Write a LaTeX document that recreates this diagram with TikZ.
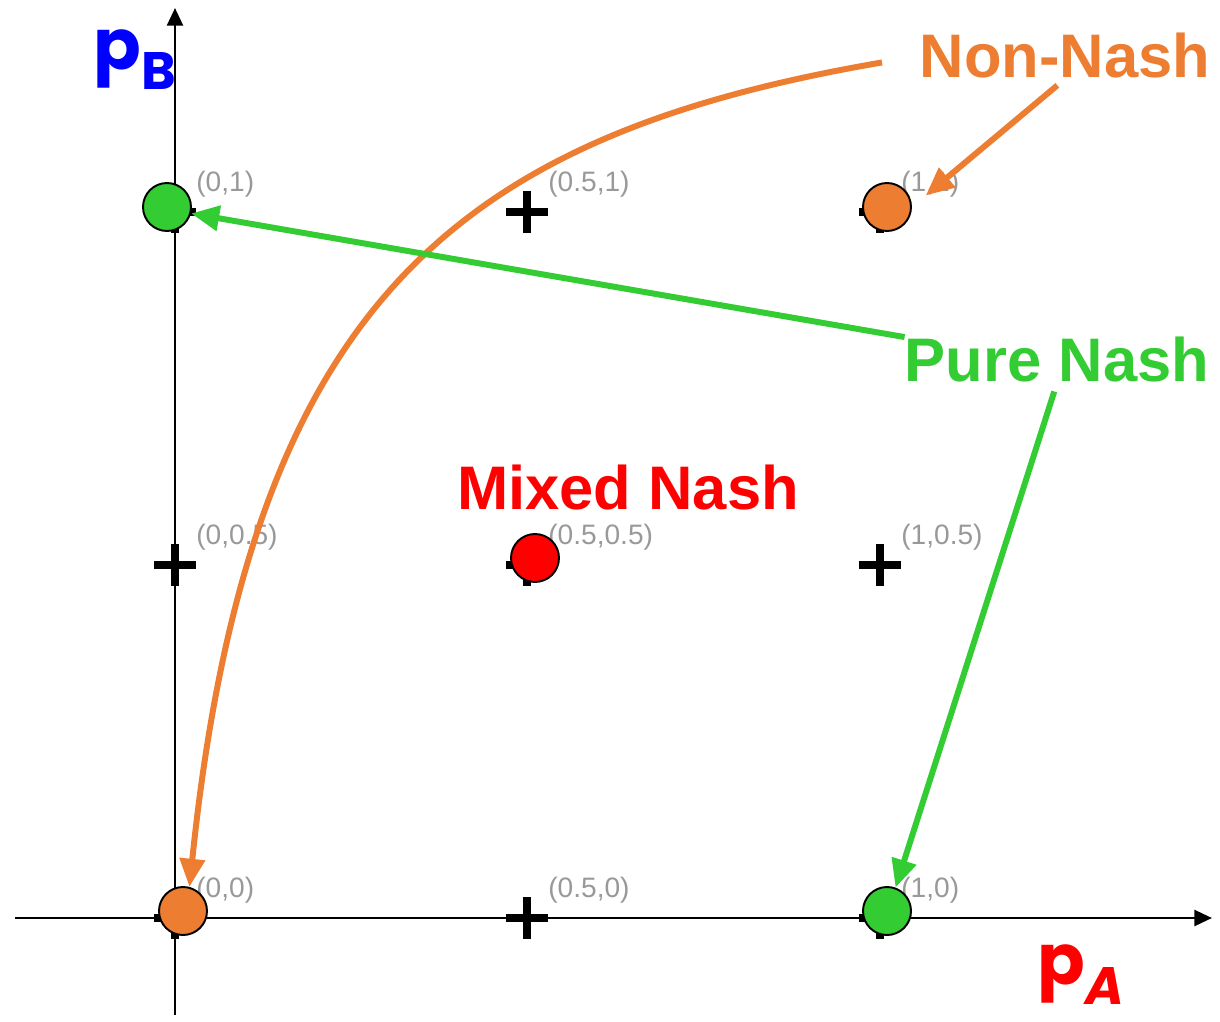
\documentclass[tikz,border=0pt]{standalone}
\usepackage{fontspec}
\setmainfont{Liberation Sans}
\newfontfamily\handfont{Poppins}
\usetikzlibrary{arrows.meta,positioning}
\definecolor{nashorange}{HTML}{ED7D31}
\definecolor{nashgreen}{HTML}{33CC33}

\begin{document}
\begin{tikzpicture}[
  x=0.02cm, y=-0.02cm,
  axis/.style={line width=1.6pt, -{Triangle[length=10pt, width=9pt]}},
  plusmark/.style={line width=4pt},
  pt/.style={circle, draw, line width=1.1pt, minimum size=0.96cm, inner sep=0pt},
  coordlabel/.style={font=\fontsize{16}{16}\selectfont, text=gray!80, anchor=west, inner sep=0pt},
  tag/.style={font=\fontsize{35}{35}\selectfont\bfseries, inner sep=0pt},
  arrow/.style={line width=3.4pt, -{Triangle[length=16pt, width=14pt]}},
  axlabel/.style={font=\handfont\bfseries\fontsize{40}{40}\selectfont, inner sep=0pt}
]
\useasboundingbox (0,0) rectangle (1220,1021);

%% Axes
\coordinate (xstart) at (15,918);
\coordinate (xend) at (1212,918);
\coordinate (ystart) at (175,1015);
\coordinate (yend) at (175,8);
\draw[axis] (xstart) -- (xend);
\draw[axis] (ystart) -- (yend);

%% Strategy grid
\foreach \gx/\gy/\i/\txt in {175/918/00/{(0,0)}, 527/918/50/{(0.5,0)}, 880/918/10/{(1,0)},
    175/565/05/{(0,0.5)}, 527/565/55/{(0.5,0.5)}, 880/565/15/{(1,0.5)},
    175/212/01/{(0,1)}, 527/212/51/{(0.5,1)}, 880/212/11/{(1,1)}} {
  \coordinate (g\i) at (\gx,\gy);
  \draw[plusmark] (\gx-21,\gy) -- (\gx+21,\gy) (\gx,\gy-21) -- (\gx,\gy+21);
  \node[coordlabel] (lbl\i) at ([shift={(21,-28)}]g\i) {\txt};
}

%% Equilibria
\node[pt, fill=nashgreen]  (p01) at (167,207) {};
\node[pt, fill=nashorange] (p11) at (887,207) {};
\node[pt, fill=red]        (p55) at (535,558) {};
\node[pt, fill=nashorange] (p00) at (183,911) {};
\node[pt, fill=nashgreen]  (p10) at (887,911) {};

%% Tags
\node[tag, text=nashorange] (nonnash)  at (1065,56)  {Non-Nash};
\node[tag, text=nashgreen]  (purenash) at (1057,360) {Pure Nash};
\node[tag, text=red]        (mixed)    at (628,488)  {Mixed Nash};

%% Axis labels
\node[axlabel, text=blue] (pb) at (135,60) {p\raisebox{-0.4cm}{\fontsize{30}{30}\selectfont B}};
\node[axlabel, text=red]  (pa) at (1081,975) {p\raisebox{-0.4cm}{\fontsize{30}{30}\selectfont\itshape A}};

%% Arrows
\draw[arrow, nashorange, shorten <=0.76cm] (nonnash.west) .. controls (460,135) and (250,300) .. (p00.75);
\draw[arrow, nashorange, shorten <=0.2cm, shorten >=0.36cm] (nonnash.south) -- (p11.east);
\draw[arrow, nashgreen] (purenash.north west) -- (p01.-15);
\draw[arrow, nashgreen, shorten <=0.18cm] (purenash.south) -- (p10.70);
\end{tikzpicture}
\end{document}
